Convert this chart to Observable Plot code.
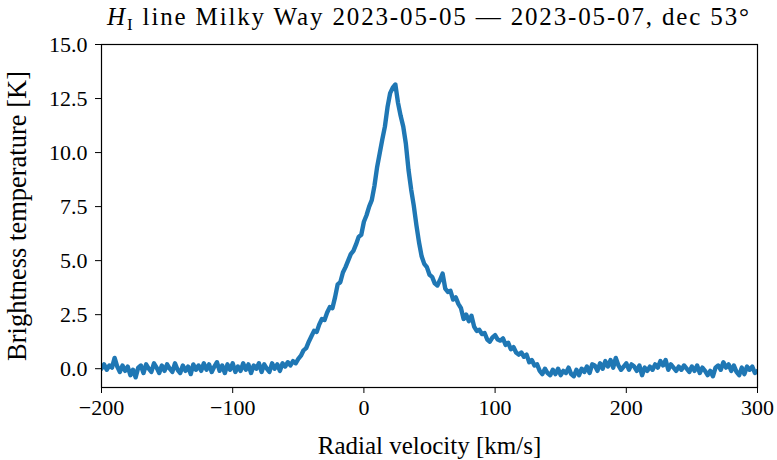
<!DOCTYPE html>
<html><head><meta charset="utf-8">
<script src="https://cdn.jsdelivr.net/npm/d3@7"></script>
<script src="https://cdn.jsdelivr.net/npm/@observablehq/plot@0.6"></script>
<style>
body{margin:0;background:#fff;}
#wrap{position:relative;width:777px;height:460px;}
#title{position:absolute;left:101px;width:656px;top:5px;text-align:center;font-family:"Liberation Serif",serif;font-size:25px;letter-spacing:1.85px;line-height:24px;white-space:nowrap;color:#000;z-index:2;}
#title .sub{font-size:17px;position:relative;top:5px;}
#chart{position:absolute;left:0;top:0;}
#chart svg, #chart svg text{font-family:"Liberation Serif",serif !important;}
</style></head>
<body>
<div id="wrap">
<div id="title"><i>H</i><span class="sub">I</span> line Milky Way 2023-05-05 — 2023-05-07, dec 53°</div>
<div id="chart"></div>
</div>
<script>
const velocity = [
 -200,-198,-196,-194,-192,-190,-188,-186,-184,-182,
 -180,-178,-176,-174,-172,-170,-168,-166,-164,-162,
 -160,-158,-156,-154,-152,-150,-148,-146,-144,-142,
 -140,-138,-136,-134,-132,-130,-128,-126,-124,-122,
 -120,-118,-116,-114,-112,-110,-108,-106,-104,-102,
 -100,-98,-96,-94,-92,-90,-88,-86,-84,-82,
 -80,-78,-76,-74,-72,-70,-68,-66,-64,-62,
 -60,-58,-56,-54,-52,-50,-48,-46,-44,-42,
 -40,-38,-36,-34,-32,-30,-28,-26,-24,-22,
 -20,-18,-16,-14,-12,-10,-8,-6,-4,-2,
 0,2,4,6,8,10,12,14,16,18,
 20,22,24,26,28,30,32,34,36,38,
 40,42,44,46,48,50,52,54,56,58,
 60,62,64,66,68,70,72,74,76,78,
 80,82,84,86,88,90,92,94,96,98,
 100,102,104,106,108,110,112,114,116,118,
 120,122,124,126,128,130,132,134,136,138,
 140,142,144,146,148,150,152,154,156,158,
 160,162,164,166,168,170,172,174,176,178,
 180,182,184,186,188,190,192,194,196,198,
 200,202,204,206,208,210,212,214,216,218,
 220,222,224,226,228,230,232,234,236,238,
 240,242,244,246,248,250,252,254,256,258,
 260,262,264,266,268,270,272,274,276,278,
 280,282,284,286,288,290,292,294,296,298,
 300
];
const temperature = [
 0.0,0.2,-0.05,0.15,0.05,0.5,0.1,-0.15,0.15,-0.1,
 0.1,-0.3,-0.05,-0.4,0.05,0.15,-0.2,0.2,0.0,-0.15,
 0.25,0.05,-0.2,0.15,-0.1,0.2,0.0,-0.15,0.25,-0.05,
 -0.2,0.15,-0.1,0.1,-0.25,0.2,-0.05,0.15,-0.1,0.25,
 -0.05,0.2,-0.15,0.1,0.3,-0.1,0.15,-0.2,0.2,-0.05,
 0.25,-0.15,0.1,-0.1,0.25,-0.05,0.2,-0.2,0.15,0.0,
 0.25,-0.15,0.2,0.0,-0.15,0.25,0.0,0.2,-0.1,0.25,
 0.1,0.3,0.15,0.35,0.25,0.45,0.6,0.85,0.95,1.25,
 1.5,1.75,1.7,2.05,2.3,2.25,2.6,2.85,2.8,3.3,
 3.9,4.0,4.45,4.7,5.0,5.3,5.45,5.75,6.1,6.2,
 6.8,7.1,7.5,7.8,8.45,9.3,9.95,10.6,11.2,12.1,
 12.75,13.0,13.15,12.3,11.7,11.2,10.4,9.2,8.3,7.55,
 6.65,5.85,5.2,4.85,4.7,4.35,4.25,3.95,3.85,4.1,
 4.4,3.7,3.55,3.6,3.2,3.3,3.0,2.8,2.3,2.5,
 2.2,2.45,1.95,1.75,1.8,1.6,1.65,1.35,1.25,1.45,
 1.55,1.35,1.3,1.4,1.1,1.2,0.9,1.0,0.75,0.65,
 0.75,0.55,0.65,0.3,0.4,0.15,0.2,-0.1,-0.25,0.0,
 -0.2,-0.3,-0.05,-0.25,0.0,-0.3,-0.1,-0.2,0.05,-0.25,
 -0.35,-0.05,-0.3,0.0,-0.15,0.1,-0.2,0.2,0.15,-0.1,
 0.25,0.0,0.35,0.1,0.4,0.05,0.5,0.15,-0.05,0.1,
 0.25,-0.05,0.2,0.1,-0.1,0.15,-0.3,0.05,-0.1,0.1,
 -0.05,0.2,0.05,0.35,0.15,0.4,-0.05,0.2,0.05,-0.1,
 0.1,-0.05,0.15,0.0,-0.15,0.1,-0.1,0.15,-0.2,0.05,
 -0.1,-0.3,-0.1,-0.35,0.05,0.15,-0.05,0.3,0.05,0.2,
 -0.1,0.15,-0.15,-0.3,0.05,-0.25,0.1,-0.05,0.1,-0.2,
 -0.1
];
const xTicks = [-200, -100, 0, 100, 200, 300];
const yTicks = [0, 2.5, 5, 7.5, 10, 12.5, 15];
const xLabel = "Radial velocity [km/s]";
const yLabel = "Brightness temperature [K]";

const data = velocity.map((v, i) => ({v, t: temperature[i]}));
const serif = "Liberation Serif, serif";

const chart = Plot.plot({
  width: 777, height: 460,
  marginTop: 44, marginBottom: 73, marginLeft: 101, marginRight: 20,
  style: {fontFamily: serif, fontSize: "22px", background: "white", color: "black", overflow: "visible"},
  x: {domain: [-200, 300]},
  y: {domain: [-0.87, 15]},
  marks: [
    Plot.line(data, {x: "v", y: "t", stroke: "#1f77b4", strokeWidth: 4.4, strokeLinejoin: "round", clip: true}),
    Plot.frame({stroke: "black", strokeWidth: 1.2}),
    Plot.axisX({ticks: xTicks, tickFormat: d3.format("d"), tickSize: 6, tickPadding: 6, label: null, fontSize: 22, fontFamily: serif}),
    Plot.axisX({ticks: [], label: xLabel, labelAnchor: "center", labelArrow: "none", labelOffset: 66, fontSize: 25, fontFamily: serif}),
    Plot.axisY({ticks: yTicks, tickFormat: d3.format(".1f"), tickSize: 6, tickPadding: 8, label: null, fontSize: 22, fontFamily: serif}),
    Plot.axisY({ticks: [], label: yLabel, labelAnchor: "center", labelArrow: "none", labelOffset: 94, fontSize: 26.5, fontFamily: serif})
  ]
});
document.getElementById("chart").appendChild(chart);
</script>
</body></html>
